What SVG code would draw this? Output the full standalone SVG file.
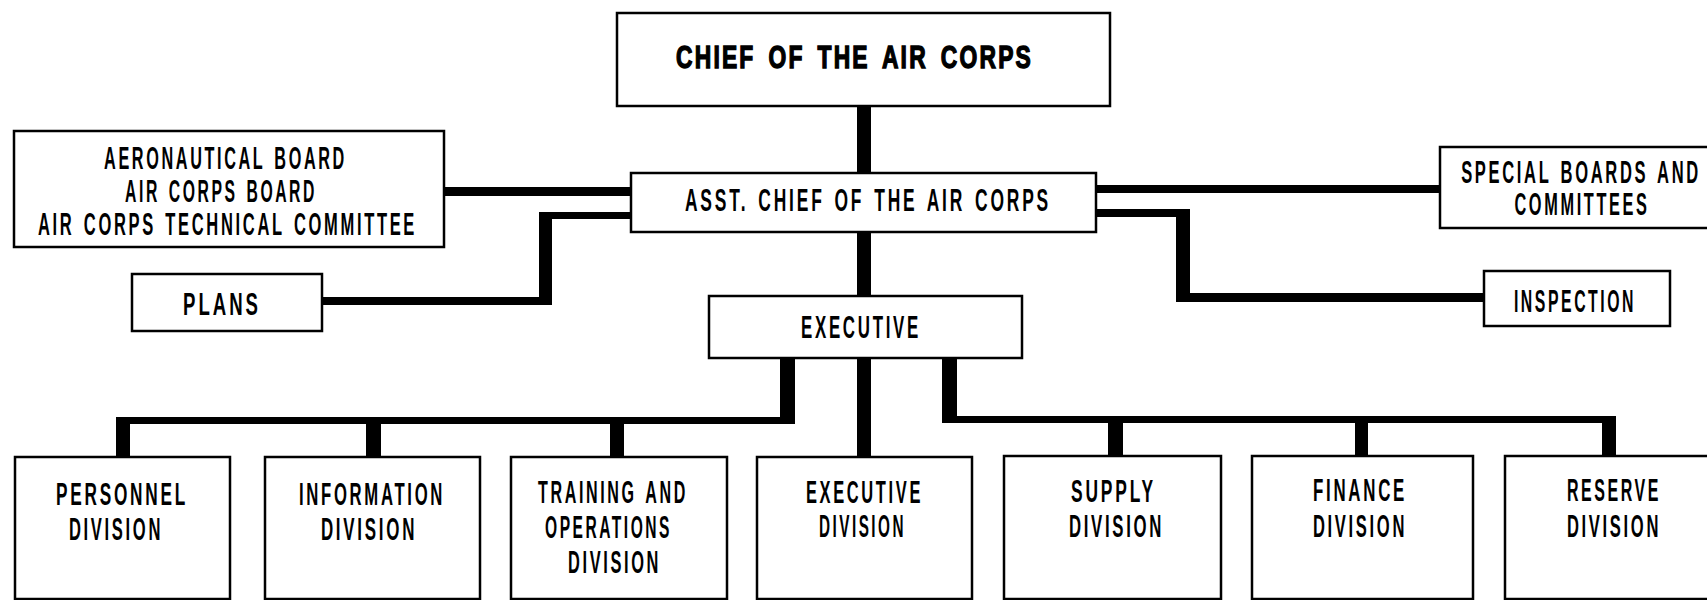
<svg xmlns="http://www.w3.org/2000/svg" width="1707" height="600" viewBox="0 0 1707 600">
<style>
.bx{fill:#fff;stroke:#000;stroke-width:2.5}
.ln{fill:#000;stroke:none}
text{font-family:"Liberation Sans","Arial",sans-serif;font-size:31px;font-weight:bold;fill:#000;letter-spacing:5px;word-spacing:4px;text-anchor:middle}
.h{stroke:#000;stroke-width:1.4;letter-spacing:3px;word-spacing:6px}
</style>
<rect width="1707" height="600" fill="#fff"/>
<g id="connectors">
<rect class="ln" x="857" y="106" width="14" height="67"/>
<rect class="ln" x="857" y="232" width="14" height="65"/>
<rect class="ln" x="444" y="187" width="187" height="9"/>
<polygon class="ln" points="631,212 539,212 539,297 322,297 322,305 552,305 552,219 631,219"/>
<rect class="ln" x="1096" y="185" width="344" height="8"/>
<polygon class="ln" points="1096,209 1190,209 1190,293 1484,293 1484,302 1176,302 1176,217 1096,217"/>
<polygon class="ln" points="780,358 795,358 795,424 624,424 624,457 610,457 610,424 381,424 381,457 366,457 366,424 130,424 130,457 116,457 116,417 780,417"/>
<rect class="ln" x="857" y="358" width="14" height="99"/>
<polygon class="ln" points="942,358 957,358 957,416 1616,416 1616,456 1602,456 1602,423 1368,423 1368,456 1355,456 1355,423 1123,423 1123,456 1108,456 1108,423 942,423"/>
</g>
<g id="chief"><rect class="bx" x="617" y="13" width="493" height="93"/><text class="h" transform="translate(854.5,68) scale(0.75,1)" textLength="476" lengthAdjust="spacingAndGlyphs">CHIEF OF THE AIR CORPS</text></g>
<g id="boards"><rect class="bx" x="14" y="131" width="430" height="116"/>
<text transform="translate(225.5,169) scale(0.52,1)" textLength="467" lengthAdjust="spacingAndGlyphs">AERONAUTICAL BOARD</text>
<text transform="translate(221,202) scale(0.52,1)" textLength="369" lengthAdjust="spacingAndGlyphs">AIR CORPS BOARD</text>
<text transform="translate(227.5,235) scale(0.52,1)" textLength="729" lengthAdjust="spacingAndGlyphs">AIR CORPS TECHNICAL COMMITTEE</text></g>
<g id="asst"><rect class="bx" x="631" y="173" width="465" height="59"/><text transform="translate(868,211) scale(0.52,1)" textLength="704" lengthAdjust="spacingAndGlyphs">ASST. CHIEF OF THE AIR CORPS</text></g>
<g id="plans"><rect class="bx" x="132" y="274" width="190" height="57"/><text transform="translate(222,315) scale(0.52,1)" textLength="150" lengthAdjust="spacingAndGlyphs">PLANS</text></g>
<g id="special"><rect class="bx" x="1440" y="147" width="275" height="81"/>
<text transform="translate(1581,183) scale(0.52,1)" textLength="461" lengthAdjust="spacingAndGlyphs">SPECIAL BOARDS AND</text>
<text transform="translate(1582,215) scale(0.52,1)" textLength="260" lengthAdjust="spacingAndGlyphs">COMMITTEES</text></g>
<g id="inspection"><rect class="bx" x="1484" y="271" width="186" height="55"/><text transform="translate(1575,312) scale(0.52,1)" textLength="235" lengthAdjust="spacingAndGlyphs">INSPECTION</text></g>
<g id="executive"><rect class="bx" x="709" y="296" width="313" height="62"/><text transform="translate(861,338) scale(0.52,1)" textLength="231" lengthAdjust="spacingAndGlyphs">EXECUTIVE</text></g>
<g id="personnel"><rect class="bx" x="15" y="457" width="215" height="142"/>
<text transform="translate(122,505) scale(0.52,1)" textLength="254" lengthAdjust="spacingAndGlyphs">PERSONNEL</text>
<text transform="translate(116,540) scale(0.52,1)" textLength="181" lengthAdjust="spacingAndGlyphs">DIVISION</text></g>
<g id="information"><rect class="bx" x="265" y="457" width="215" height="142"/>
<text transform="translate(372,505) scale(0.52,1)" textLength="281" lengthAdjust="spacingAndGlyphs">INFORMATION</text>
<text transform="translate(369,540) scale(0.52,1)" textLength="185" lengthAdjust="spacingAndGlyphs">DIVISION</text></g>
<g id="training"><rect class="bx" x="511" y="457" width="216" height="142"/>
<text transform="translate(613,503) scale(0.52,1)" textLength="288" lengthAdjust="spacingAndGlyphs">TRAINING AND</text>
<text transform="translate(608.5,538) scale(0.52,1)" textLength="244" lengthAdjust="spacingAndGlyphs">OPERATIONS</text>
<text transform="translate(614.5,573) scale(0.52,1)" textLength="179" lengthAdjust="spacingAndGlyphs">DIVISION</text></g>
<g id="execdiv"><rect class="bx" x="757" y="457" width="215" height="142"/>
<text transform="translate(864.5,503) scale(0.52,1)" textLength="225" lengthAdjust="spacingAndGlyphs">EXECUTIVE</text>
<text transform="translate(862.5,537) scale(0.52,1)" textLength="167" lengthAdjust="spacingAndGlyphs">DIVISION</text></g>
<g id="supply"><rect class="bx" x="1004" y="456" width="217" height="143"/>
<text transform="translate(1113.5,502) scale(0.52,1)" textLength="163" lengthAdjust="spacingAndGlyphs">SUPPLY</text>
<text transform="translate(1116.5,537) scale(0.52,1)" textLength="183" lengthAdjust="spacingAndGlyphs">DIVISION</text></g>
<g id="finance"><rect class="bx" x="1252" y="456" width="221" height="143"/>
<text transform="translate(1360,501) scale(0.52,1)" textLength="181" lengthAdjust="spacingAndGlyphs">FINANCE</text>
<text transform="translate(1360,537) scale(0.52,1)" textLength="181" lengthAdjust="spacingAndGlyphs">DIVISION</text></g>
<g id="reserve"><rect class="bx" x="1505" y="456" width="225" height="143"/>
<text transform="translate(1614,501) scale(0.52,1)" textLength="181" lengthAdjust="spacingAndGlyphs">RESERVE</text>
<text transform="translate(1614,537) scale(0.52,1)" textLength="181" lengthAdjust="spacingAndGlyphs">DIVISION</text></g>
</svg>
